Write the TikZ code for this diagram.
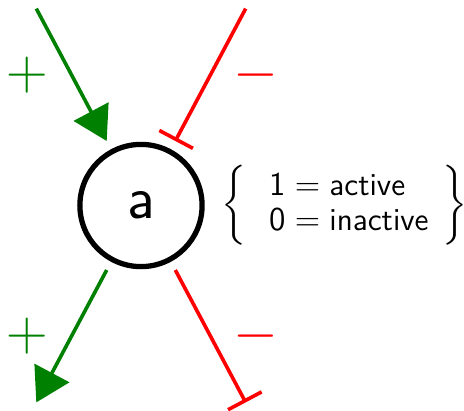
\documentclass[tikz,border=0pt]{standalone}
\usepackage{amsmath}
\usetikzlibrary{arrows.meta,positioning}

\begin{document}
\begin{tikzpicture}[x=0.36pt, y=0.36pt,
  act/.style={draw=green!50!black, line width=1.3pt, -{Triangle[length=12pt, width=14pt]}},
  inh/.style={draw=red, line width=1.3pt, -{Bar[width=13.7pt]}},
  plus/.style={text=green!50!black, font=\huge},
  minus/.style={text=red, font=\huge}]
  \useasboundingbox (-141,-205.5) rectangle (323,205.5);
  \node (a) [circle, draw, line width=1.9pt, minimum size=44pt, outer sep=4.3pt,
    font=\sffamily\fontsize{22}{26}\selectfont] {a};
  \node (state) [right=-1pt of a, font=\fontsize{11.5}{12.6}\selectfont]
    {$\left\{\;\begin{array}{l} \mathsf{1} = \textsf{active}\\ \mathsf{0} = \textsf{inactive}\end{array}\right\}$};
  \coordinate (upA) at (118:223);
  \coordinate (upI) at (62:223);
  \coordinate (downA) at (242:223);
  \coordinate (downI) at (298:223);
  \draw[act] (upA) -- node[plus, left=4.4pt] {$+$} (a);
  \draw[inh] (upI) -- node[minus, right=4.4pt] {$-$} (a);
  \draw[act] (a) -- node[plus, left=4.4pt] {$+$} (downA);
  \draw[inh] (a) -- node[minus, right=4.4pt] {$-$} (downI);
\end{tikzpicture}
\end{document}
